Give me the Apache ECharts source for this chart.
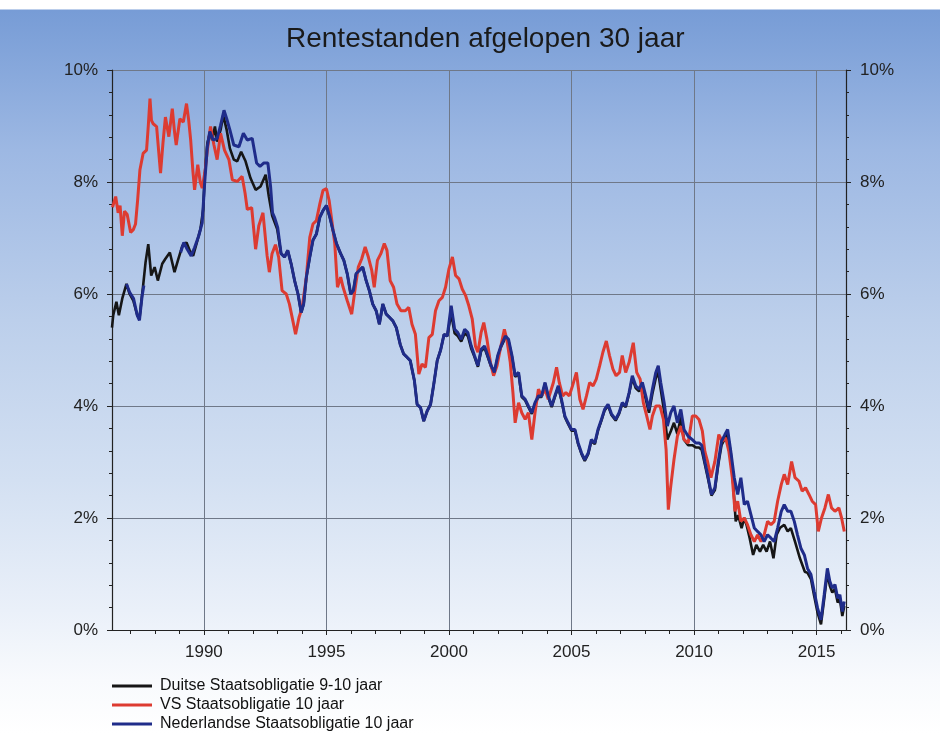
<!DOCTYPE html>
<html>
<head>
<meta charset="utf-8">
<script src="https://cdn.jsdelivr.net/npm/echarts@6/dist/echarts.min.js"></script>
<style>
    html, body { margin: 0; padding: 0; background: #fff; }
    #chart {
        width: 940px;
        height: 734px;
        background: linear-gradient(to bottom, #ffffff 0px, #ffffff 9px, #779cd6 10px, #9db8e3 150px,
            #bccfeb 320px, #d3e0f2 480px, #eaf0f9 610px, #f8fafd 680px, #ffffff 734px);
    }
</style>
</head>
<body>
<div id="chart"></div>
<script>
// --- data: decimal years and rates (%) ---
const seriesNames = [
    "Duitse Staatsobligatie 9-10 jaar",
    "VS Staatsobligatie 10 jaar",
    "Nederlandse Staatsobligatie 10 jaar"
];

const yearLabels = [1990, 1995, 2000, 2005, 2010, 2015];
const yearTicks = [1987, 1988, 1989, 1990, 1991, 1992, 1993, 1994, 1995, 1996, 1997, 1998, 1999, 2000, 2001,
    2002, 2003, 2004, 2005, 2006, 2007, 2008, 2009, 2010, 2011, 2012, 2013, 2014, 2015, 2016];

const usDates = [1986.27, 1986.40, 1986.50, 1986.58, 1986.67, 1986.76, 1986.87, 1987.01, 1987.12, 1987.21, 1987.30,
    1987.39, 1987.52, 1987.66, 1987.73, 1987.80, 1987.86, 1987.93, 1988.07, 1988.23, 1988.33, 1988.43, 1988.57,
    1988.71, 1988.80, 1988.87, 1989.02, 1989.16, 1989.29, 1989.38, 1989.46, 1989.55, 1989.62, 1989.75, 1989.85,
    1989.93, 1990.05, 1990.14, 1990.27, 1990.41, 1990.54, 1990.68, 1990.84, 1991.02, 1991.16, 1991.36, 1991.56,
    1991.68, 1991.77, 1991.95, 1992.11, 1992.24, 1992.41, 1992.58, 1992.67, 1992.78, 1992.92, 1993.05, 1993.19,
    1993.36, 1993.49, 1993.63, 1993.74, 1993.88, 1994.01, 1994.18, 1994.32, 1994.45, 1994.59, 1994.73, 1994.86,
    1995.00, 1995.11, 1995.21, 1995.34, 1995.45, 1995.58, 1995.68, 1995.85, 1996.03, 1996.16, 1996.30, 1996.44,
    1996.58, 1996.71, 1996.85, 1996.95, 1997.08, 1997.22, 1997.36, 1997.47, 1997.60, 1997.74, 1997.88, 1998.04,
    1998.22, 1998.36, 1998.49, 1998.63, 1998.77, 1998.90, 1999.04, 1999.18, 1999.32, 1999.45, 1999.59, 1999.73,
    1999.86, 2000.00, 2000.14, 2000.27, 2000.41, 2000.54, 2000.68, 2000.81, 2000.95, 2001.08, 2001.18, 2001.31,
    2001.42, 2001.55, 2001.69, 2001.82, 2001.96, 2002.09, 2002.26, 2002.36, 2002.50, 2002.61, 2002.70, 2002.84,
    2002.97, 2003.11, 2003.24, 2003.38, 2003.51, 2003.65, 2003.78, 2003.92, 2004.05, 2004.26, 2004.39, 2004.50,
    2004.64, 2004.77, 2004.91, 2005.04, 2005.20, 2005.34, 2005.47, 2005.61, 2005.74, 2005.88, 2006.01, 2006.15,
    2006.28, 2006.42, 2006.55, 2006.69, 2006.82, 2006.96, 2007.07, 2007.21, 2007.35, 2007.52, 2007.66, 2007.80,
    2007.93, 2008.07, 2008.20, 2008.30, 2008.44, 2008.61, 2008.75, 2008.86, 2008.95, 2009.05, 2009.18, 2009.32,
    2009.46, 2009.59, 2009.76, 2009.93, 2010.07, 2010.20, 2010.34, 2010.44, 2010.55, 2010.69, 2010.85, 2011.01,
    2011.15, 2011.29, 2011.42, 2011.56, 2011.67, 2011.78, 2011.91, 2012.05, 2012.18, 2012.32, 2012.46, 2012.59,
    2012.73, 2012.86, 2013.00, 2013.14, 2013.27, 2013.41, 2013.56, 2013.68, 2013.82, 2013.98, 2014.12, 2014.28,
    2014.41, 2014.55, 2014.69, 2014.82, 2014.96, 2015.07, 2015.20, 2015.34, 2015.48, 2015.61, 2015.75, 2015.91,
    2016.02, 2016.13];
const usRates = [7.55, 7.74, 7.45, 7.58, 7.04, 7.48, 7.42, 7.10, 7.15, 7.25, 7.70,
    8.22, 8.51, 8.57, 9.00, 9.49, 9.10, 9.04, 8.99, 8.16, 8.70, 9.16, 8.81,
    9.31, 8.90, 8.66, 9.13, 9.07, 9.40, 9.10, 8.75, 8.20, 7.86, 8.31, 8.00,
    7.89, 8.20, 8.57, 8.99, 8.66, 8.40, 8.87, 8.57, 8.40, 8.04, 8.01, 8.10,
    7.80, 7.51, 7.54, 6.80, 7.22, 7.45, 6.68, 6.39, 6.72, 6.88, 6.66, 6.06,
    6.00, 5.82, 5.52, 5.28, 5.58, 5.76, 6.30, 7.01, 7.25, 7.31, 7.61, 7.85,
    7.88, 7.67, 7.34, 6.90, 6.12, 6.30, 6.12, 5.88, 5.64, 6.06, 6.48, 6.63,
    6.84, 6.66, 6.42, 6.12, 6.60, 6.72, 6.90, 6.78, 6.24, 6.12, 5.82, 5.70,
    5.70, 5.76, 5.46, 5.28, 4.57, 4.75, 4.69, 5.22, 5.28, 5.70, 5.88, 5.94,
    6.12, 6.45, 6.66, 6.33, 6.27, 6.09, 5.97, 5.79, 5.55, 5.07, 4.96, 5.31,
    5.49, 5.19, 4.78, 4.54, 4.72, 5.01, 5.37, 5.19, 4.78, 4.24, 3.70, 4.06,
    3.88, 3.76, 3.88, 3.40, 3.88, 4.30, 4.18, 4.30, 4.12, 4.42, 4.69, 4.42,
    4.18, 4.24, 4.18, 4.36, 4.60, 4.12, 3.94, 4.18, 4.42, 4.36, 4.48, 4.72,
    4.96, 5.16, 4.90, 4.66, 4.54, 4.60, 4.90, 4.60, 4.78, 5.13, 4.60, 4.48,
    4.06, 3.82, 3.58, 3.82, 4.00, 4.00, 3.76, 3.22, 2.15, 2.57, 3.04, 3.46,
    3.64, 3.40, 3.34, 3.82, 3.82, 3.76, 3.55, 3.19, 3.01, 2.72, 3.01, 3.49,
    3.37, 3.43, 3.19, 2.72, 2.12, 2.30, 1.94, 2.00, 1.88, 1.70, 1.58, 1.70,
    1.58, 1.70, 1.94, 1.88, 1.94, 2.30, 2.60, 2.78, 2.60, 3.01, 2.72, 2.66,
    2.48, 2.54, 2.42, 2.30, 2.24, 1.76, 2.00, 2.18, 2.42, 2.18, 2.12, 2.18,
    2.00, 1.76];

// Dutch series: a short early stretch, then a gap, then continuous from 1989
const nlDates = [1986.84, 1986.97, 1987.13, 1987.28, 1987.37, 1987.48, 1987.55, 1987.60,
    1989.05, 1989.18, 1989.32, 1989.48, 1989.62, 1989.79, 1989.93, 1990.03, 1990.14, 1990.24, 1990.38, 1990.54,
    1990.68, 1990.82, 1990.93, 1991.06, 1991.22, 1991.43, 1991.61, 1991.77, 1991.97, 1992.15, 1992.29, 1992.45,
    1992.61, 1992.72, 1992.80, 1992.88, 1993.01, 1993.15, 1993.29, 1993.42, 1993.56, 1993.70, 1993.84, 1993.97,
    1994.07, 1994.18, 1994.32, 1994.45, 1994.59, 1994.73, 1994.86, 1995.00, 1995.14, 1995.27, 1995.41, 1995.58,
    1995.71, 1995.85, 1995.99, 1996.10, 1996.21, 1996.34, 1996.48, 1996.62, 1996.75, 1996.89, 1997.03, 1997.16,
    1997.30, 1997.44, 1997.58, 1997.71, 1997.85, 1998.01, 1998.15, 1998.29, 1998.42, 1998.59, 1998.70, 1998.84,
    1998.97, 1999.11, 1999.25, 1999.38, 1999.52, 1999.66, 1999.80, 1999.93, 2000.09, 2000.23, 2000.36, 2000.50,
    2000.64, 2000.77, 2000.91, 2001.04, 2001.18, 2001.31, 2001.45, 2001.58, 2001.72, 2001.85, 2001.99, 2002.12,
    2002.30, 2002.43, 2002.57, 2002.70, 2002.84, 2002.97, 2003.11, 2003.24, 2003.38, 2003.51, 2003.65, 2003.78,
    2003.92, 2004.05, 2004.19, 2004.32, 2004.46, 2004.59, 2004.73, 2004.86, 2005.00, 2005.14, 2005.27, 2005.41,
    2005.54, 2005.68, 2005.81, 2005.95, 2006.08, 2006.22, 2006.35, 2006.49, 2006.63, 2006.80, 2006.94, 2007.07,
    2007.21, 2007.35, 2007.48, 2007.62, 2007.76, 2007.89, 2008.03, 2008.16, 2008.30, 2008.44, 2008.54, 2008.64,
    2008.78, 2008.91, 2009.05, 2009.18, 2009.32, 2009.46, 2009.59, 2009.76, 2009.93, 2010.07, 2010.20, 2010.31,
    2010.44, 2010.58, 2010.71, 2010.85, 2010.99, 2011.12, 2011.26, 2011.37, 2011.50, 2011.64, 2011.78, 2011.91,
    2012.05, 2012.18, 2012.32, 2012.46, 2012.59, 2012.73, 2012.86, 2013.00, 2013.14, 2013.27, 2013.41, 2013.56,
    2013.68, 2013.82, 2013.95, 2014.09, 2014.22, 2014.36, 2014.50, 2014.63, 2014.77, 2014.90, 2015.04, 2015.18,
    2015.31, 2015.44, 2015.54, 2015.64, 2015.75, 2015.86, 2015.95, 2016.05, 2016.13];
const nlRates = [6.18, 6.03, 5.92, 5.62, 5.53, 5.97, 6.15, null,
    6.74, 6.92, 6.80, 6.68, 6.83, 7.04, 7.27, 7.98, 8.63, 8.90, 8.75, 8.78,
    9.01, 9.28, 9.13, 8.93, 8.66, 8.63, 8.87, 8.75, 8.78, 8.34, 8.28, 8.34,
    8.34, 7.92, 7.45, 7.37, 7.19, 6.72, 6.66, 6.78, 6.54, 6.24, 6.00, 5.67,
    5.82, 6.30, 6.66, 6.96, 7.07, 7.37, 7.49, 7.58, 7.37, 7.13, 6.90, 6.72,
    6.60, 6.36, 6.00, 6.06, 6.36, 6.42, 6.48, 6.24, 6.06, 5.82, 5.70, 5.46,
    5.82, 5.64, 5.58, 5.52, 5.40, 5.10, 4.93, 4.87, 4.81, 4.45, 4.03, 3.97,
    3.73, 3.91, 4.03, 4.39, 4.81, 5.00, 5.28, 5.25, 5.79, 5.37, 5.31, 5.19,
    5.37, 5.31, 5.07, 4.90, 4.72, 5.01, 5.07, 4.90, 4.72, 4.60, 4.90, 5.07,
    5.25, 5.19, 4.90, 4.54, 4.60, 4.18, 4.12, 4.00, 3.88, 4.06, 4.18, 4.18,
    4.42, 4.18, 4.00, 4.18, 4.36, 4.12, 3.82, 3.70, 3.58, 3.58, 3.34, 3.16,
    3.04, 3.16, 3.40, 3.34, 3.58, 3.76, 3.94, 4.03, 3.86, 3.76, 3.88, 4.06,
    4.00, 4.24, 4.54, 4.36, 4.30, 4.42, 4.18, 3.94, 4.30, 4.60, 4.72, 4.42,
    4.06, 3.64, 3.88, 4.00, 3.70, 3.94, 3.58, 3.46, 3.40, 3.34, 3.34, 3.30,
    3.01, 2.72, 2.42, 2.54, 3.01, 3.37, 3.49, 3.58, 3.19, 2.72, 2.42, 2.72,
    2.24, 2.30, 2.06, 1.82, 1.76, 1.70, 1.58, 1.70, 1.64, 1.58, 1.82, 2.12,
    2.24, 2.12, 2.12, 1.94, 1.70, 1.46, 1.34, 1.10, 0.99, 0.69, 0.39, 0.18,
    0.63, 1.10, 0.87, 0.75, 0.81, 0.57, 0.63, 0.33, 0.51];

const deDates = [1986.25, 1986.30, 1986.43, 1986.53, 1986.67, 1986.84, 1986.97, 1987.12, 1987.28, 1987.37, 1987.52,
    1987.62, 1987.73, 1987.85, 1987.99, 1988.12, 1988.30, 1988.43, 1988.61, 1988.80, 1988.94, 1989.12, 1989.29,
    1989.43, 1989.56, 1989.73, 1989.86, 1989.97, 1990.04, 1990.14, 1990.24, 1990.34, 1990.45, 1990.54, 1990.68,
    1990.79, 1990.93, 1991.06, 1991.22, 1991.36, 1991.52, 1991.70, 1991.90, 1992.11, 1992.31, 1992.52, 1992.65,
    1992.79, 1992.99, 1993.15, 1993.29, 1993.42, 1993.56, 1993.70, 1993.84, 1993.97, 1994.07, 1994.18, 1994.32,
    1994.45, 1994.59, 1994.73, 1994.86, 1995.00, 1995.14, 1995.27, 1995.41, 1995.58, 1995.71, 1995.85, 1995.99,
    1996.10, 1996.21, 1996.34, 1996.48, 1996.62, 1996.75, 1996.89, 1997.03, 1997.16, 1997.30, 1997.44, 1997.58,
    1997.71, 1997.85, 1998.01, 1998.15, 1998.29, 1998.42, 1998.59, 1998.70, 1998.84, 1998.97, 1999.11, 1999.25,
    1999.38, 1999.52, 1999.66, 1999.80, 1999.93, 2000.09, 2000.23, 2000.36, 2000.50, 2000.64, 2000.77, 2000.91,
    2001.04, 2001.18, 2001.31, 2001.45, 2001.58, 2001.72, 2001.85, 2001.99, 2002.12, 2002.30, 2002.43, 2002.57,
    2002.70, 2002.84, 2002.97, 2003.11, 2003.24, 2003.38, 2003.51, 2003.65, 2003.78, 2003.92, 2004.05, 2004.19,
    2004.32, 2004.46, 2004.59, 2004.73, 2004.86, 2005.00, 2005.14, 2005.27, 2005.41, 2005.54, 2005.68, 2005.81,
    2005.95, 2006.08, 2006.22, 2006.35, 2006.49, 2006.63, 2006.80, 2006.94, 2007.07, 2007.21, 2007.35, 2007.48,
    2007.62, 2007.76, 2007.89, 2008.03, 2008.16, 2008.30, 2008.44, 2008.54, 2008.64, 2008.78, 2008.91, 2009.05,
    2009.18, 2009.32, 2009.46, 2009.59, 2009.76, 2009.93, 2010.07, 2010.20, 2010.31, 2010.44, 2010.58, 2010.71,
    2010.85, 2010.99, 2011.12, 2011.26, 2011.37, 2011.50, 2011.60, 2011.70, 2011.80, 2011.94, 2012.05, 2012.14,
    2012.27, 2012.41, 2012.54, 2012.69, 2012.82, 2012.96, 2013.10, 2013.24, 2013.37, 2013.50, 2013.68, 2013.82,
    2013.95, 2014.12, 2014.32, 2014.52, 2014.63, 2014.77, 2014.90, 2015.04, 2015.18, 2015.31, 2015.44, 2015.54,
    2015.64, 2015.75, 2015.86, 2015.95, 2016.05, 2016.13];
const deRates = [5.40, 5.62, 5.86, 5.62, 5.92, 6.18, 6.00, 5.88, 5.62, 5.56, 6.15,
    6.57, 6.89, 6.33, 6.48, 6.24, 6.54, 6.63, 6.74, 6.39, 6.60, 6.86, 6.92,
    6.77, 6.68, 6.95, 7.16, 7.51, 8.16, 8.69, 8.87, 8.75, 8.99, 8.72, 8.93,
    9.19, 8.93, 8.60, 8.40, 8.37, 8.54, 8.37, 8.07, 7.86, 7.92, 8.13, 7.74,
    7.39, 7.16, 6.72, 6.66, 6.78, 6.54, 6.24, 6.00, 5.67, 5.82, 6.30, 6.66,
    6.96, 7.07, 7.37, 7.49, 7.58, 7.37, 7.13, 6.90, 6.72, 6.60, 6.36, 6.00,
    6.06, 6.36, 6.42, 6.48, 6.24, 6.06, 5.82, 5.70, 5.46, 5.82, 5.64, 5.58,
    5.52, 5.40, 5.10, 4.93, 4.87, 4.81, 4.45, 4.03, 3.97, 3.73, 3.91, 4.03,
    4.39, 4.81, 5.00, 5.28, 5.25, 5.65, 5.30, 5.25, 5.15, 5.30, 5.25, 5.02,
    4.88, 4.70, 4.98, 5.04, 4.88, 4.70, 4.58, 4.88, 5.05, 5.22, 5.16, 4.88,
    4.52, 4.58, 4.16, 4.10, 3.98, 3.86, 4.04, 4.16, 4.16, 4.40, 4.16, 3.98,
    4.16, 4.34, 4.10, 3.80, 3.68, 3.56, 3.56, 3.32, 3.14, 3.02, 3.14, 3.38,
    3.32, 3.56, 3.74, 3.92, 4.01, 3.84, 3.74, 3.86, 4.04, 3.98, 4.22, 4.50,
    4.32, 4.26, 4.38, 4.12, 3.88, 4.22, 4.50, 4.60, 4.30, 3.90, 3.40, 3.55,
    3.70, 3.50, 3.80, 3.40, 3.30, 3.30, 3.26, 3.26, 3.22, 2.96, 2.68, 2.40,
    2.50, 2.96, 3.30, 3.42, 3.50, 3.15, 2.60, 1.94, 2.05, 1.82, 2.00, 1.88,
    1.64, 1.34, 1.52, 1.40, 1.52, 1.40, 1.58, 1.28, 1.70, 1.82, 1.88, 1.76,
    1.82, 1.58, 1.28, 1.04, 1.02, 0.91, 0.61, 0.31, 0.10, 0.55, 1.02, 0.79,
    0.67, 0.73, 0.49, 0.55, 0.25, 0.43];

const toPairs = (dates, rates) => dates.map((d, i) => [d, rates[i]]);

const FONT = "Arial, 'Liberation Sans', Helvetica, sans-serif";
const gridColor = "#6f7888";
const axisColor = "#222";

const chart = echarts.init(document.getElementById("chart"), null, { renderer: "canvas" });

chart.setOption({
    backgroundColor: "transparent",
    animation: false,
    color: ["#161616", "#dd3b31", "#1f2c8a"],
    title: {
        text: "Rentestanden afgelopen 30 jaar",
        left: 286,
        top: 25,
        padding: 0,
        textStyle: { fontFamily: FONT, fontSize: 28, fontWeight: "normal", color: "#1a1a1a" }
    },
    grid: { left: 112, right: 94, top: 70, bottom: 104 },
    legend: {
        orient: "vertical",
        left: 112,
        top: 678,
        padding: 0,
        icon: "rect",
        itemWidth: 40,
        itemHeight: 3,
        itemGap: 3,
        data: seriesNames,
        textStyle: { fontFamily: FONT, fontSize: 16, color: "#111", lineHeight: 16, padding: [0, 0, 0, 3] }
    },
    xAxis: [
        {
            type: "value",
            min: 1986.25,
            max: 2016.2,
            position: "bottom",
            axisLine: { show: true, lineStyle: { color: axisColor, width: 1 } },
            axisTick: { show: true, customValues: yearLabels, length: 5, lineStyle: { color: axisColor } },
            axisLabel: {
                customValues: yearLabels,
                formatter: v => String(Math.round(v)),
                margin: 14,
                fontFamily: FONT,
                fontSize: 17,
                color: axisColor
            },
            splitLine: { show: true, lineStyle: { color: gridColor, width: 1 } }
        },
        {
            type: "value",
            min: 1986.25,
            max: 2016.2,
            position: "bottom",
            axisLine: { show: false },
            axisTick: { show: true, customValues: yearTicks, length: 4, lineStyle: { color: axisColor } },
            axisLabel: { show: false },
            splitLine: { show: false }
        }
    ],
    yAxis: [
        {
            type: "value",
            min: 0,
            max: 10,
            interval: 2,
            position: "left",
            axisLine: { show: true, lineStyle: { color: axisColor, width: 1.2 } },
            axisTick: { show: true, length: 5, lineStyle: { color: axisColor } },
            minorTick: { show: true, splitNumber: 5, length: 3, lineStyle: { color: axisColor } },
            axisLabel: { formatter: "{value}%", margin: 14, fontFamily: FONT, fontSize: 17, color: axisColor },
            splitLine: { show: true, lineStyle: { color: gridColor, width: 1 } }
        },
        {
            type: "value",
            min: 0,
            max: 10,
            interval: 2,
            position: "right",
            axisLine: { show: true, lineStyle: { color: axisColor, width: 1.2 } },
            axisTick: { show: true, length: 5, lineStyle: { color: axisColor } },
            minorTick: { show: true, splitNumber: 5, length: 3, lineStyle: { color: axisColor } },
            axisLabel: { formatter: "{value}%", margin: 14, fontFamily: FONT, fontSize: 17, color: axisColor },
            splitLine: { show: false }
        }
    ],
    series: [
        {
            name: seriesNames[0],
            type: "line",
            showSymbol: false,
            lineStyle: { width: 2.6, color: "#161616" },
            data: toPairs(deDates, deRates),
            z: 2
        },
        {
            name: seriesNames[1],
            type: "line",
            showSymbol: false,
            lineStyle: { width: 3, color: "#dd3b31" },
            data: toPairs(usDates, usRates),
            z: 3
        },
        {
            name: seriesNames[2],
            type: "line",
            showSymbol: false,
            connectNulls: false,
            lineStyle: { width: 3, color: "#1f2c8a" },
            data: toPairs(nlDates, nlRates),
            z: 4
        }
    ]
});
</script>
</body>
</html>
